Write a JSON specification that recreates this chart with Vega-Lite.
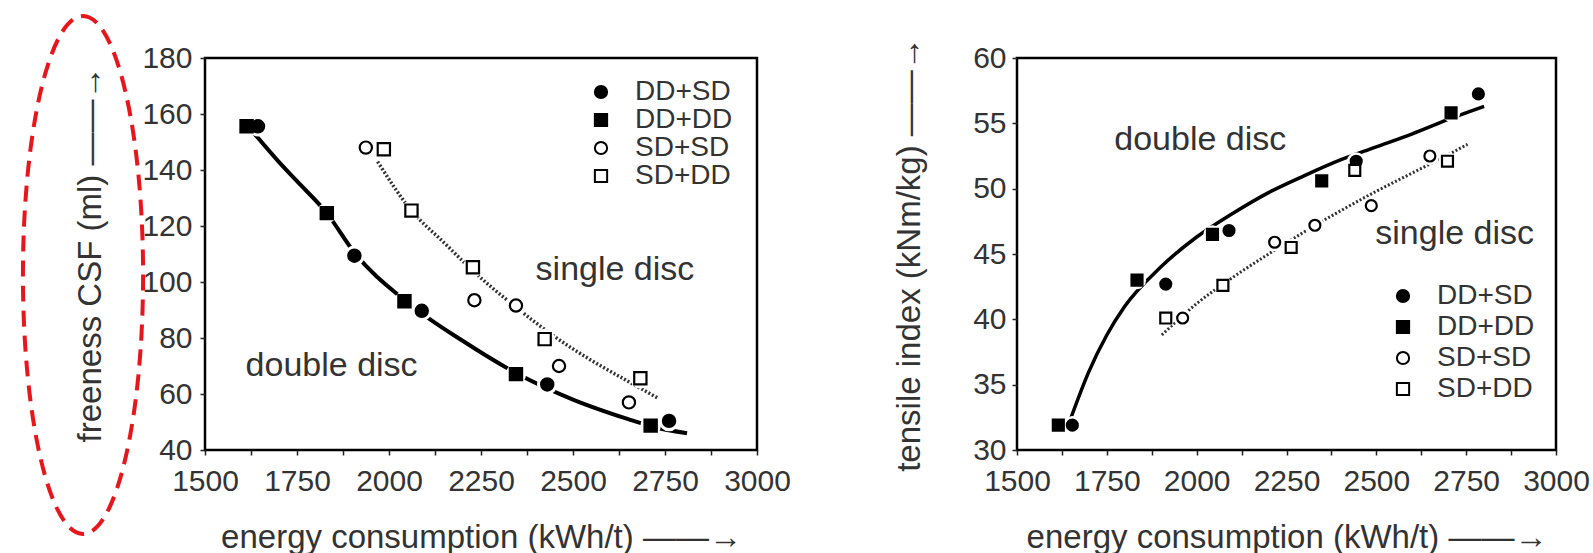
{
  "$schema": "https://vega.github.io/schema/vega-lite/v6.json",
  "padding": {"left": 13, "top": 6, "right": 5, "bottom": 2},
  "background": "white",
  "bounds": "flush",
  "spacing": 260,
  "config": {
    "view": {"stroke": "black", "strokeWidth": 2.5},
    "font": "Liberation Sans",
    "axis": {
      "domain": false, "grid": false, "labelOverlap": false, "labelFlush": false,
      "labelFont": "Liberation Sans", "labelFontSize": 30, "labelColor": "#333333",
      "titleFont": "Liberation Sans", "titleFontSize": 33, "titleFontWeight": "normal", "titleColor": "#333333",
      "tickColor": "#222222", "tickSize": 5, "tickWidth": 1.5
    },
    "legend": {
      "title": null, "labelFont": "Liberation Sans", "labelFontSize": 28, "labelColor": "#333333",
      "symbolStrokeColor": "black", "symbolStrokeWidth": 2, "symbolSize": 150, "labelOffset": 20
    }
  },
  "datasets": {
    "leftPoints": [
      {"energy": 1613, "value": 155.6, "type": "DD+DD"},
      {"energy": 1644, "value": 155.6, "type": "DD+SD"},
      {"energy": 1831, "value": 124.6, "type": "DD+DD"},
      {"energy": 1906, "value": 109.4, "type": "DD+SD"},
      {"energy": 2042, "value": 93.1, "type": "DD+DD"},
      {"energy": 2089, "value": 89.7, "type": "DD+SD"},
      {"energy": 2345, "value": 67.1, "type": "DD+DD"},
      {"energy": 2430, "value": 63.4, "type": "DD+SD"},
      {"energy": 2711, "value": 48.7, "type": "DD+DD"},
      {"energy": 2761, "value": 50.4, "type": "DD+SD"},
      {"energy": 1937, "value": 148.0, "type": "SD+SD"},
      {"energy": 1986, "value": 147.4, "type": "SD+DD"},
      {"energy": 2061, "value": 125.5, "type": "SD+DD"},
      {"energy": 2228, "value": 105.3, "type": "SD+DD"},
      {"energy": 2232, "value": 93.5, "type": "SD+SD"},
      {"energy": 2345, "value": 91.6, "type": "SD+SD"},
      {"energy": 2423, "value": 79.6, "type": "SD+DD"},
      {"energy": 2462, "value": 70.0, "type": "SD+SD"},
      {"energy": 2683, "value": 65.6, "type": "SD+DD"},
      {"energy": 2652, "value": 57.0, "type": "SD+SD"}
    ],
    "leftCurves": [
      {"energy": 1634, "value": 153, "curve": "double"},
      {"energy": 1700, "value": 143, "curve": "double"},
      {"energy": 1750, "value": 136, "curve": "double"},
      {"energy": 1831, "value": 124.6, "curve": "double"},
      {"energy": 1906, "value": 110.5, "curve": "double"},
      {"energy": 2042, "value": 93.5, "curve": "double"},
      {"energy": 2200, "value": 79, "curve": "double"},
      {"energy": 2345, "value": 67.5, "curve": "double"},
      {"energy": 2500, "value": 58, "curve": "double"},
      {"energy": 2650, "value": 51, "curve": "double"},
      {"energy": 2711, "value": 48.5, "curve": "double"},
      {"energy": 2810, "value": 46, "curve": "double"},
      {"energy": 1969, "value": 143, "curve": "single"},
      {"energy": 2061, "value": 125.5, "curve": "single"},
      {"energy": 2150, "value": 114, "curve": "single"},
      {"energy": 2228, "value": 104, "curve": "single"},
      {"energy": 2345, "value": 91, "curve": "single"},
      {"energy": 2450, "value": 80.5, "curve": "single"},
      {"energy": 2550, "value": 72, "curve": "single"},
      {"energy": 2650, "value": 64.5, "curve": "single"},
      {"energy": 2730, "value": 58.6, "curve": "single"}
    ],
    "leftLabels": [
      {"energy": 1844, "value": 70, "text": "double disc"},
      {"energy": 2614, "value": 104.3, "text": "single disc"}
    ],
    "rightPoints": [
      {"energy": 1615, "value": 31.9, "type": "DD+DD"},
      {"energy": 1654, "value": 31.9, "type": "DD+SD"},
      {"energy": 1834, "value": 43.0, "type": "DD+DD"},
      {"energy": 1914, "value": 42.7, "type": "DD+SD"},
      {"energy": 2044, "value": 46.5, "type": "DD+DD"},
      {"energy": 2090, "value": 46.8, "type": "DD+SD"},
      {"energy": 2348, "value": 50.6, "type": "DD+DD"},
      {"energy": 2444, "value": 52.1, "type": "DD+SD"},
      {"energy": 2708, "value": 55.8, "type": "DD+DD"},
      {"energy": 2784, "value": 57.25, "type": "DD+SD"},
      {"energy": 1914, "value": 40.1, "type": "SD+DD"},
      {"energy": 1961, "value": 40.1, "type": "SD+SD"},
      {"energy": 2073, "value": 42.6, "type": "SD+DD"},
      {"energy": 2217, "value": 45.9, "type": "SD+SD"},
      {"energy": 2263, "value": 45.5, "type": "SD+DD"},
      {"energy": 2329, "value": 47.2, "type": "SD+SD"},
      {"energy": 2440, "value": 51.4, "type": "SD+DD"},
      {"energy": 2486, "value": 48.7, "type": "SD+SD"},
      {"energy": 2649, "value": 52.5, "type": "SD+SD"},
      {"energy": 2698, "value": 52.1, "type": "SD+DD"}
    ],
    "rightCurves": [
      {"energy": 1648, "value": 32.3, "curve": "double"},
      {"energy": 1700, "value": 36, "curve": "double"},
      {"energy": 1750, "value": 38.8, "curve": "double"},
      {"energy": 1800, "value": 41, "curve": "double"},
      {"energy": 1900, "value": 44, "curve": "double"},
      {"energy": 2000, "value": 46.3, "curve": "double"},
      {"energy": 2100, "value": 48.1, "curve": "double"},
      {"energy": 2200, "value": 49.7, "curve": "double"},
      {"energy": 2300, "value": 51, "curve": "double"},
      {"energy": 2400, "value": 52.2, "curve": "double"},
      {"energy": 2500, "value": 53.2, "curve": "double"},
      {"energy": 2600, "value": 54.2, "curve": "double"},
      {"energy": 2700, "value": 55.3, "curve": "double"},
      {"energy": 2800, "value": 56.3, "curve": "double"},
      {"energy": 1903, "value": 38.8, "curve": "single"},
      {"energy": 2000, "value": 41.2, "curve": "single"},
      {"energy": 2100, "value": 43.2, "curve": "single"},
      {"energy": 2200, "value": 45.0, "curve": "single"},
      {"energy": 2300, "value": 46.7, "curve": "single"},
      {"energy": 2400, "value": 48.3, "curve": "single"},
      {"energy": 2500, "value": 49.8, "curve": "single"},
      {"energy": 2600, "value": 51.2, "curve": "single"},
      {"energy": 2700, "value": 52.6, "curve": "single"},
      {"energy": 2754, "value": 53.4, "curve": "single"}
    ],
    "rightLabels": [
      {"energy": 2010, "value": 53.7, "text": "double disc"},
      {"energy": 2718, "value": 46.5, "text": "single disc"}
    ],
    "highlight": [
      {"energy": 1168.5, "value": 102.5}
    ]
  },
  "hconcat": [
    {
      "width": 552,
      "height": 392,
      "encoding": {
        "x": {"field": "energy", "type": "quantitative",
              "scale": {"domain": [1500, 3000], "nice": false, "zero": false},
              "axis": {"values": [1500, 1625, 1750, 1875, 2000, 2125, 2250, 2375, 2500, 2625, 2750, 2875, 3000], "format": "d",
                       "labelExpr": "datum.value % 250 === 0 ? datum.label : ''",
                       "labelPadding": 11, "titlePadding": 25,
                       "title": "energy consumption (kWh/t) ——→"}},
        "y": {"field": "value", "type": "quantitative",
              "scale": {"domain": [40, 180], "nice": false, "zero": false},
              "axis": {"values": [40, 60, 80, 100, 120, 140, 160, 180], "labelPadding": 8, "titlePadding": 34,
                       "title": "freeness CSF (ml) ——→"}}
      },
      "layer": [
        {"data": {"name": "leftCurves"}, "transform": [{"filter": "datum.curve === 'double'"}],
         "mark": {"type": "line", "interpolate": "monotone", "color": "black", "strokeWidth": 4}},
        {"data": {"name": "leftCurves"}, "transform": [{"filter": "datum.curve === 'single'"}],
         "mark": {"type": "line", "interpolate": "monotone", "color": "#333333", "strokeWidth": 3.5, "strokeDash": [2, 2]}},
        {"data": {"name": "leftPoints"},
         "mark": {"type": "point", "shape": "circle", "filled": true, "color": "white", "size": 420, "opacity": 1}},
        {"data": {"name": "leftPoints"},
         "mark": {"type": "point", "filled": true, "strokeWidth": 2.2, "size": 150, "opacity": 1},
         "encoding": {
           "shape": {"field": "type", "type": "nominal",
                     "scale": {"domain": ["DD+SD", "DD+DD", "SD+SD", "SD+DD"], "range": ["circle", "square", "circle", "square"]},
                     "legend": {"orient": "none", "legendX": 382, "legendY": 20, "rowPadding": -7}},
           "fill": {"field": "type", "type": "nominal",
                    "scale": {"domain": ["DD+SD", "DD+DD", "SD+SD", "SD+DD"], "range": ["black", "black", "white", "white"]},
                    "legend": {"orient": "none", "legendX": 382, "legendY": 20, "rowPadding": -7}},
           "stroke": {"field": "type", "type": "nominal",
                    "scale": {"domain": ["DD+SD", "DD+DD", "SD+SD", "SD+DD"], "range": ["black", "black", "black", "black"]},
                    "legend": {"orient": "none", "legendX": 382, "legendY": 20, "rowPadding": -7}}
         }},
        {"data": {"name": "leftLabels"},
         "mark": {"type": "text", "fontSize": 34, "color": "#333333", "align": "center", "baseline": "middle", "font": "Liberation Sans"},
         "encoding": {"text": {"field": "text"}}},
        {"data": {"name": "highlight"},
         "mark": {"type": "point", "filled": false, "stroke": "#e8161b", "strokeWidth": 4, "strokeDash": [16, 9], "size": 268324, "opacity": 1, "clip": false,
                  "shape": "M0,-1 C0.128,-1 0.232,-0.5523 0.232,0 C0.232,0.5523 0.128,1 0,1 C-0.128,1 -0.232,0.5523 -0.232,0 C-0.232,-0.5523 -0.128,-1 0,-1 Z"}}
      ]
    },
    {
      "width": 539,
      "height": 392,
      "encoding": {
        "x": {"field": "energy", "type": "quantitative",
              "scale": {"domain": [1500, 3000], "nice": false, "zero": false},
              "axis": {"values": [1500, 1625, 1750, 1875, 2000, 2125, 2250, 2375, 2500, 2625, 2750, 2875, 3000], "format": "d",
                       "labelExpr": "datum.value % 250 === 0 ? datum.label : ''",
                       "labelPadding": 11, "titlePadding": 25,
                       "title": "energy consumption (kWh/t) ——→"}},
        "y": {"field": "value", "type": "quantitative",
              "scale": {"domain": [30, 60], "nice": false, "zero": false},
              "axis": {"values": [30, 35, 40, 45, 50, 55, 60], "labelPadding": 6, "titlePadding": 46,
                       "title": "tensile index (kNm/kg) ——→"}}
      },
      "layer": [
        {"data": {"name": "rightCurves"}, "transform": [{"filter": "datum.curve === 'double'"}],
         "mark": {"type": "line", "interpolate": "monotone", "color": "black", "strokeWidth": 3.5}},
        {"data": {"name": "rightCurves"}, "transform": [{"filter": "datum.curve === 'single'"}],
         "mark": {"type": "line", "interpolate": "monotone", "color": "#333333", "strokeWidth": 3, "strokeDash": [2, 2]}},
        {"data": {"name": "rightPoints"},
         "mark": {"type": "point", "shape": "circle", "filled": true, "color": "white", "size": 330, "opacity": 1}},
        {"data": {"name": "rightPoints"},
         "mark": {"type": "point", "filled": true, "strokeWidth": 2.2, "size": 120, "opacity": 1},
         "encoding": {
           "shape": {"field": "type", "type": "nominal",
                     "scale": {"domain": ["DD+SD", "DD+DD", "SD+SD", "SD+DD"], "range": ["circle", "square", "circle", "square"]},
                     "legend": {"orient": "none", "legendX": 372, "legendY": 224, "rowPadding": 3}},
           "fill": {"field": "type", "type": "nominal",
                    "scale": {"domain": ["DD+SD", "DD+DD", "SD+SD", "SD+DD"], "range": ["black", "black", "white", "white"]},
                    "legend": {"orient": "none", "legendX": 372, "legendY": 224, "rowPadding": 3}},
           "stroke": {"field": "type", "type": "nominal",
                    "scale": {"domain": ["DD+SD", "DD+DD", "SD+SD", "SD+DD"], "range": ["black", "black", "black", "black"]},
                    "legend": {"orient": "none", "legendX": 372, "legendY": 224, "rowPadding": 3}}
         }},
        {"data": {"name": "rightLabels"},
         "mark": {"type": "text", "fontSize": 34, "color": "#333333", "align": "center", "baseline": "middle", "font": "Liberation Sans"},
         "encoding": {"text": {"field": "text"}}}
      ]
    }
  ],
  "resolve": {"scale": {"shape": "independent", "fill": "independent", "stroke": "independent", "x": "independent", "y": "independent"}, "legend": {"shape": "independent", "fill": "independent", "stroke": "independent"}}
}
